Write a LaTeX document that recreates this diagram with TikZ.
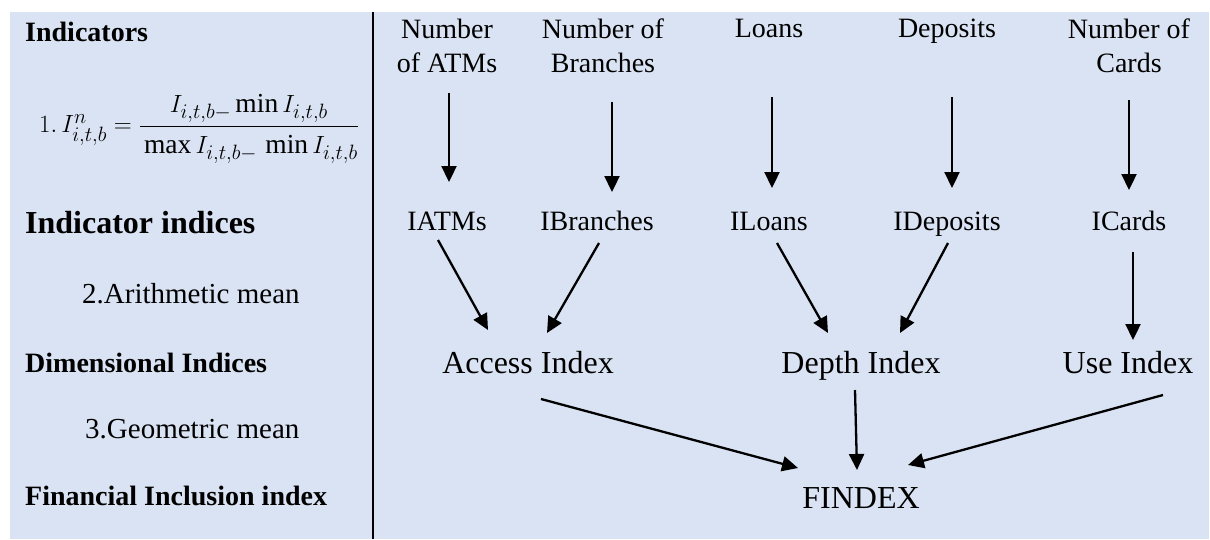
\documentclass[tikz,border=0pt]{standalone}
\usepackage{amsmath}
\usepackage{fontspec}
\setmainfont{Liberation Serif}
\usetikzlibrary{arrows.meta,calc}
\definecolor{bg}{RGB}{218,227,243}
\begin{document}
\begin{tikzpicture}[x=1pt,y=-1pt,
  lbl/.style={inner sep=0pt, font=\fontsize{28}{34}\selectfont, align=center},
  big/.style={inner sep=0pt, font=\fontsize{32}{38}\selectfont},
  head/.style={inner sep=0pt, anchor=base west, font=\bfseries\fontsize{28}{34}\selectfont},
  note/.style={inner sep=0pt, anchor=base west, font=\fontsize{29}{34}\selectfont},
  arr/.style={line width=2.3pt, -{Triangle[width=15pt,length=16pt]}}]
\useasboundingbox (0,0) rectangle (1210,539);
\fill[bg] (10,12) rectangle (1209,539);
\draw[line width=2pt] (373,12) -- (373,539);

% left column
\node[head] (h1) at (25,41) {Indicators};
\node[inner sep=0pt, anchor=west] (form) at (39,129) {\fontsize{27.5}{31}\selectfont $1.\,I^{n}_{i,t,b}=\dfrac{I_{i,t,b-}\min I_{i,t,b}\rule[-5pt]{0pt}{5pt}}{\rule{0pt}{24pt}\max I_{i,t,b-}\,\min I_{i,t,b}}$};
\node[head, font=\bfseries\fontsize{32}{38}\selectfont] (h2) at (25,233) {Indicator indices};
\node[note] (n2) at (82,303) {2.Arithmetic mean};
\node[head] (h3) at (25,372) {Dimensional Indices};
\node[note] (n3) at (85,438) {3.Geometric mean};
\node[head] (h4) at (25,505) {Financial Inclusion index};

% top row
\node[lbl, anchor=north] (atm) at (447,19) {Number\\of ATMs};
\node[lbl, anchor=north] (br) at (603,19) {Number of\\Branches};
\node[lbl, anchor=north] (loans) at (769,19) {Loans};
\node[lbl, anchor=north] (dep) at (947,19) {Deposits};
\node[lbl, anchor=north] (cards) at (1129,19) {Number of\\Cards};

% second row
\node[lbl, anchor=base] (iatm) at (447,230) {IATMs};
\node[lbl, anchor=base] (ibr) at (597,230) {IBranches};
\node[lbl, anchor=base] (iloans) at (769,230) {ILoans};
\node[lbl, anchor=base] (idep) at (947,230) {IDeposits};
\node[lbl, anchor=base] (icards) at (1129,230) {ICards};

% third row
\node[big, anchor=base] (acc) at (528,373) {Access Index};
\node[big, anchor=base] (dpt) at (861,373) {Depth Index};
\node[big, anchor=base] (use) at (1128,373) {Use Index};

% bottom
\node[big, anchor=base] (fin) at (861,508) {FINDEX};

% arrows row 1
\draw[arr] ($(atm.north)+(2,74)$) -- ($(iatm.base)+(2,-48)$);
\draw[arr] ($(br.north)+(9,83)$) -- ($(ibr.base)+(15,-38)$);
\draw[arr] ($(loans.north)+(3,78)$) -- ($(iloans.base)+(3,-42)$);
\draw[arr] ($(dep.north)+(5,78)$) -- ($(idep.base)+(5,-42)$);
\draw[arr] ($(cards.north)+(0,81)$) -- ($(icards.base)+(0,-40)$);

% arrows row 2
\draw[arr] ($(iatm.base)+(-9,10)$) -- ($(acc.base)+(-40,-43)$);
\draw[arr] ($(ibr.base)+(2,13)$) -- ($(acc.base)+(19,-40)$);
\draw[arr] ($(iloans.base)+(8,13)$) -- ($(dpt.base)+(-33,-40)$);
\draw[arr] ($(idep.base)+(1,13)$) -- ($(dpt.base)+(39,-40)$);
\draw[arr] ($(icards.base)+(4,22)$) -- ($(use.base)+(5,-33)$);

% arrows row 3
\draw[arr] ($(acc.base)+(13,26)$) -- ($(fin.base)+(-63,-40)$);
\draw[arr] ($(dpt.base)+(-6,17)$) -- ($(fin.base)+(-4,-38)$);
\draw[arr] ($(use.base)+(35,22)$) -- ($(fin.base)+(47,-43)$);
\end{tikzpicture}
\end{document}
